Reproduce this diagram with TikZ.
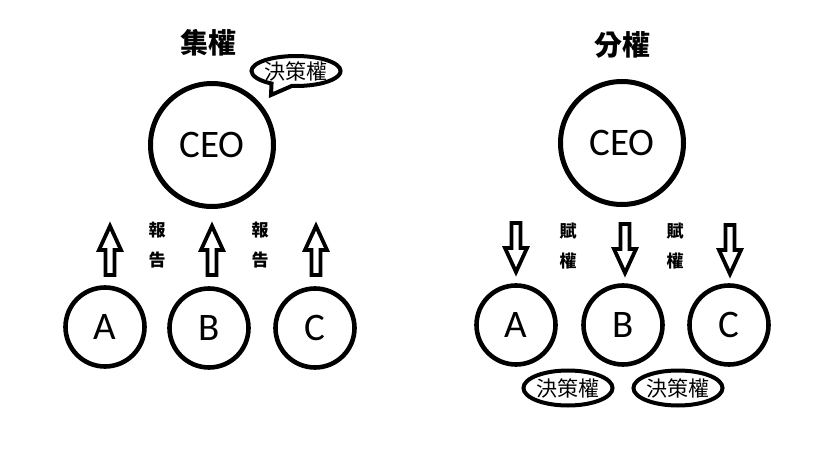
\documentclass[tikz,border=0pt]{standalone}
\usepackage{fontspec}
\setmainfont{Carlito}
\newfontfamily\cjk{Noto Sans CJK TC}
\usetikzlibrary{shapes.geometric,shapes.callouts}
\tikzset{
  bigcirc/.style={circle, draw, line width=5pt, minimum size=123pt, inner sep=0pt, font=\fontsize{39}{39}\selectfont},
  smallcirc/.style={circle, draw, line width=4.6pt, minimum size=79pt, inner sep=0pt, font=\fontsize{39}{39}\selectfont},
  title/.style={font=\cjk\bfseries\fontsize{28}{28}\selectfont, inner sep=0pt},
  vlabel/.style={font=\cjk\bfseries\fontsize{17}{30}\selectfont, align=center, inner sep=0pt},
  oval/.style={ellipse, draw, line width=4pt, minimum width=71pt, minimum height=35pt, inner sep=0pt, font=\cjk\fontsize{21}{21}\selectfont},
  blk/.style={draw, line width=3.8pt, fill=white, line join=miter},
  pics/uparr/.style={code={
    \draw[blk] (-4.5,24) -- (-4.5,-1) -- (-11,-1) -- (0,-25) -- (11,-1) -- (4.5,-1) -- (4.5,24) -- cycle;
  }},
}
\begin{document}
\begin{tikzpicture}[x=1pt,y=-1pt]
\useasboundingbox[fill=white] (0,0) rectangle (820,460);
% ---------- left: centralised ----------
\node[title] (t1) at (208,43) {集權};
\node[bigcirc] (ceo1) at (212,145) {CEO};
\node[ellipse callout, draw, line width=4pt, minimum width=72pt, minimum height=30pt, inner sep=0pt,
      font=\cjk\fontsize{21}{21}\selectfont, callout absolute pointer={(271,95)}, callout pointer arc=28]
      (bub) at (296,71) {決策權};
\node[smallcirc] (a1) at (105,327) {A};
\node[smallcirc] (b1) at (209,328) {B};
\node[smallcirc] (c1) at (315,328) {C};
\pic (ua) at (110,251) {uparr};
\pic (ub) at (212,251) {uparr};
\pic (uc) at (316,251) {uparr};
\node[vlabel] (l1) at (157,245) {報\\告};
\node[vlabel] (l2) at (260,245) {報\\告};
% ---------- right: decentralised ----------
\node[title] (t2) at (622,45) {分權};
\node[bigcirc] (ceo2) at (622,143) {CEO};
\node[smallcirc] (a2) at (516,325) {A};
\node[smallcirc] (b2) at (623,325) {B};
\node[smallcirc] (c2) at (729,325) {C};
\pic[rotate=180] (da) at (516,247) {uparr};
\pic[rotate=180] (db) at (625,248) {uparr};
\pic[rotate=180] (dc) at (730,249) {uparr};
\node[vlabel] (r1) at (568,246) {賦\\權};
\node[vlabel] (r2) at (675,246) {賦\\權};
\node[oval] (o1) at (568,388) {決策權};
\node[oval] (o2) at (678,388) {決策權};
\end{tikzpicture}
\end{document}
